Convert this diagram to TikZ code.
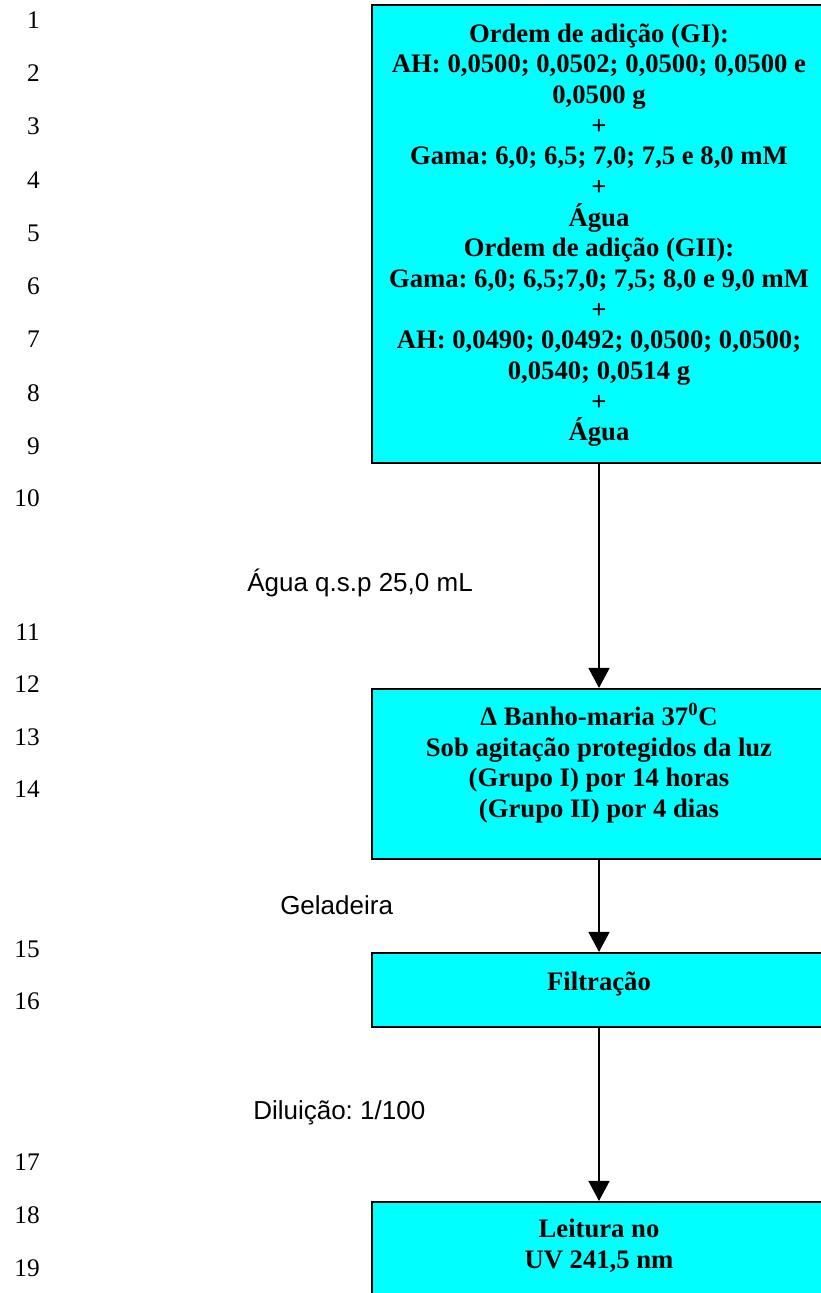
\documentclass[tikz,border=0pt]{standalone}
\usepackage{fontspec}
\setmainfont{Liberation Serif}
\setsansfont{Liberation Sans}
\usetikzlibrary{arrows.meta}
\definecolor{boxfill}{RGB}{0,255,255}
\tikzset{
  stagebox/.style={draw=black, line width=1.6pt, fill=boxfill, inner sep=0pt,
    minimum width=340.5pt},
  boxtext/.style={align=center, inner sep=0pt,
    font=\frenchspacing\bfseries\fontsize{20}{23}\selectfont},
  flow/.style={line width=1.1pt, -{Triangle[width=15.75pt,length=15pt]}},
  steplabel/.style={anchor=west, inner sep=0pt,
    font=\frenchspacing\sffamily\fontsize{19.5}{22}\selectfont},
  linenum/.style={anchor=east, inner sep=0pt,
    font=\fontsize{19}{21}\selectfont}
}
\begin{document}
\begin{tikzpicture}[x=0.75pt,y=-0.75pt]
\useasboundingbox (0,0) rectangle (821,1293);
\clip (0,0) rectangle (821,1293);

% process boxes (they run past the right margin)
\node[stagebox, minimum height=343.5pt] (b1) at (599,234) {};
\node[stagebox, minimum height=127.5pt] (b2) at (599,774) {};
\node[stagebox, minimum height=55.5pt]  (b3) at (599,990) {};
\node[stagebox, minimum height=88.5pt]  (b4) at (599,1261) {};

% box contents
\node[boxtext] (t1) at (599,235) {Ordem de adição (GI):\\
AH: 0,0500; 0,0502; 0,0500; 0,0500 e\\
0,0500 g\\ +\\
Gama: 6,0; 6,5; 7,0; 7,5 e 8,0 mM\\ +\\ Água\\
Ordem de adição (GII):\\
Gama: 6,0; 6,5;7,0; 7,5; 8,0 e 9,0 mM\\ +\\
AH: 0,0490; 0,0492; 0,0500; 0,0500;\\
0,0540; 0,0514 g\\ +\\ Água};
\node[boxtext] (t2) at (599,763) {Δ Banho-maria 37\textsuperscript{0}C\\
Sob agitação protegidos da luz\\
(Grupo I) por 14 horas\\
(Grupo II) por 4 dias};
\node[boxtext] (t3) at (599,984) {Filtração};
\node[boxtext] (t4) at (599,1246) {Leitura no\\ UV 241,5 nm};

% connectors
\draw[flow] (b1.south) -- (b2.north);
\draw[flow] (b2.south) -- (b3.north);
\draw[flow] (b3.south) -- (b4.north);

% connector labels
\node[steplabel] (l1) at (247,583) {Água q.s.p 25,0 mL};
\node[steplabel] (l2) at (280,905) {Geladeira};
\node[steplabel] (l3) at (253,1113) {Diluição: 1/100};

% line numbers
\foreach \n/\y in {1/20,2/73,3/126,4/180,5/233,6/286,7/339,8/393,9/446,10/498,
  11/632,12/684,13/737,14/789,15/949,16/1001,17/1162,18/1215,19/1268}
  \node[linenum] (n\n) at (40,\y) {\n};
\end{tikzpicture}
\end{document}
